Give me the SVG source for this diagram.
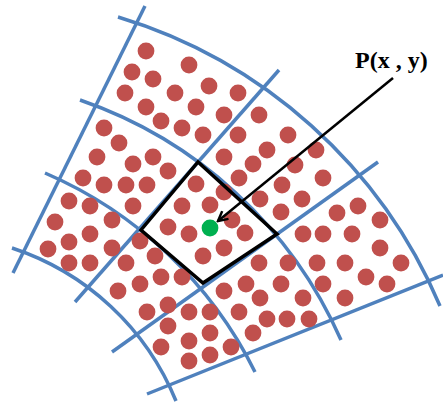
<svg xmlns="http://www.w3.org/2000/svg" width="443" height="403" viewBox="0 0 443 403">
<style>
.g{fill:none;stroke:#4F81BD;stroke-width:3.5}
.d{fill:#C0504D}
.cell{fill:none;stroke:#000;stroke-width:3.5;stroke-linejoin:miter}
.arr{fill:none;stroke:#000;stroke-width:2.5}
.lbl{font-family:"Liberation Serif","Times New Roman",serif;font-weight:bold;font-size:24px;fill:#000}
</style>
<defs>
<marker id="ah" viewBox="0 0 12 12" refX="10.5" refY="6" markerWidth="12" markerHeight="12" orient="auto" markerUnits="userSpaceOnUse">
<path d="M1,1 L10.5,6 L1,11" fill="none" stroke="#000" stroke-width="2.5"/>
</marker>
</defs>
<g id="grid">
<path class="g" d="M118,17 A509,509 0 0 1 440,306"/>
<path class="g" d="M80,100 A442,442 0 0 1 341,340"/>
<path class="g" d="M45,173 A420,420 0 0 1 255,372"/>
<path class="g" d="M12,248 A267,267 0 0 1 176,401"/>
<path class="g" d="M145,6 L13,273"/>
<path class="g" d="M279,70 L75,302"/>
<path class="g" d="M378,162 L112,352"/>
<path class="g" d="M443,275 L147,394"/>
</g>
<g id="dots">
<circle class="d" r="8.4" cx="146" cy="51"/>
<circle class="d" r="8.4" cx="189" cy="65"/>
<circle class="d" r="8.4" cx="132" cy="72"/>
<circle class="d" r="8.4" cx="153" cy="79"/>
<circle class="d" r="8.4" cx="209" cy="86"/>
<circle class="d" r="8.4" cx="125" cy="93"/>
<circle class="d" r="8.4" cx="175" cy="93"/>
<circle class="d" r="8.4" cx="146" cy="107"/>
<circle class="d" r="8.4" cx="196" cy="107"/>
<circle class="d" r="8.4" cx="161" cy="121"/>
<circle class="d" r="8.4" cx="182" cy="128"/>
<circle class="d" r="8.4" cx="203" cy="135"/>
<circle class="d" r="8.4" cx="238" cy="93"/>
<circle class="d" r="8.4" cx="224" cy="115"/>
<circle class="d" r="8.4" cx="259" cy="115"/>
<circle class="d" r="8.4" cx="238" cy="135"/>
<circle class="d" r="8.4" cx="288" cy="135"/>
<circle class="d" r="8.4" cx="267" cy="150"/>
<circle class="d" r="8.4" cx="224" cy="157"/>
<circle class="d" r="8.4" cx="316" cy="150"/>
<circle class="d" r="8.4" cx="253" cy="164"/>
<circle class="d" r="8.4" cx="295" cy="165"/>
<circle class="d" r="8.4" cx="239" cy="178"/>
<circle class="d" r="8.4" cx="323" cy="178"/>
<circle class="d" r="8.4" cx="282" cy="185"/>
<circle class="d" r="8.4" cx="104" cy="128"/>
<circle class="d" r="8.4" cx="119" cy="143"/>
<circle class="d" r="8.4" cx="97" cy="157"/>
<circle class="d" r="8.4" cx="153" cy="157"/>
<circle class="d" r="8.4" cx="133" cy="164"/>
<circle class="d" r="8.4" cx="168" cy="171"/>
<circle class="d" r="8.4" cx="83" cy="178"/>
<circle class="d" r="8.4" cx="104" cy="185"/>
<circle class="d" r="8.4" cx="126" cy="185"/>
<circle class="d" r="8.4" cx="147" cy="185"/>
<circle class="d" r="8.4" cx="133" cy="206"/>
<circle class="d" r="8.4" cx="196" cy="184"/>
<circle class="d" r="8.4" cx="224" cy="192"/>
<circle class="d" r="8.4" cx="182" cy="206"/>
<circle class="d" r="8.4" cx="210" cy="205"/>
<circle class="d" r="8.4" cx="168" cy="227"/>
<circle class="d" r="8.4" cx="189" cy="234"/>
<circle class="d" r="8.4" cx="232" cy="220"/>
<circle class="d" r="8.4" cx="245" cy="233"/>
<circle class="d" r="8.4" cx="224" cy="248"/>
<circle class="d" r="8.4" cx="203" cy="256"/>
<circle class="d" r="8.4" cx="260" cy="199"/>
<circle class="d" r="8.4" cx="302" cy="199"/>
<circle class="d" r="8.4" cx="281" cy="212"/>
<circle class="d" r="8.4" cx="337" cy="213"/>
<circle class="d" r="8.4" cx="358" cy="206"/>
<circle class="d" r="8.4" cx="380" cy="220"/>
<circle class="d" r="8.4" cx="303" cy="234"/>
<circle class="d" r="8.4" cx="323" cy="234"/>
<circle class="d" r="8.4" cx="352" cy="234"/>
<circle class="d" r="8.4" cx="380" cy="248"/>
<circle class="d" r="8.4" cx="259" cy="263"/>
<circle class="d" r="8.4" cx="288" cy="263"/>
<circle class="d" r="8.4" cx="317" cy="263"/>
<circle class="d" r="8.4" cx="345" cy="263"/>
<circle class="d" r="8.4" cx="401" cy="263"/>
<circle class="d" r="8.4" cx="366" cy="277"/>
<circle class="d" r="8.4" cx="387" cy="284"/>
<circle class="d" r="8.4" cx="281" cy="284"/>
<circle class="d" r="8.4" cx="323" cy="284"/>
<circle class="d" r="8.4" cx="303" cy="298"/>
<circle class="d" r="8.4" cx="345" cy="298"/>
<circle class="d" r="8.4" cx="69" cy="201"/>
<circle class="d" r="8.4" cx="90" cy="206"/>
<circle class="d" r="8.4" cx="55" cy="222"/>
<circle class="d" r="8.4" cx="112" cy="220"/>
<circle class="d" r="8.4" cx="90" cy="234"/>
<circle class="d" r="8.4" cx="69" cy="242"/>
<circle class="d" r="8.4" cx="48" cy="249"/>
<circle class="d" r="8.4" cx="112" cy="248"/>
<circle class="d" r="8.4" cx="69" cy="263"/>
<circle class="d" r="8.4" cx="90" cy="263"/>
<circle class="d" r="8.4" cx="126" cy="263"/>
<circle class="d" r="8.4" cx="140" cy="241"/>
<circle class="d" r="8.4" cx="155" cy="256"/>
<circle class="d" r="8.4" cx="161" cy="277"/>
<circle class="d" r="8.4" cx="182" cy="277"/>
<circle class="d" r="8.4" cx="140" cy="284"/>
<circle class="d" r="8.4" cx="118" cy="291"/>
<circle class="d" r="8.4" cx="147" cy="312"/>
<circle class="d" r="8.4" cx="168" cy="305"/>
<circle class="d" r="8.4" cx="189" cy="312"/>
<circle class="d" r="8.4" cx="210" cy="312"/>
<circle class="d" r="8.4" cx="168" cy="326"/>
<circle class="d" r="8.4" cx="210" cy="333"/>
<circle class="d" r="8.4" cx="189" cy="341"/>
<circle class="d" r="8.4" cx="161" cy="347"/>
<circle class="d" r="8.4" cx="189" cy="361"/>
<circle class="d" r="8.4" cx="210" cy="355"/>
<circle class="d" r="8.4" cx="231" cy="347"/>
<circle class="d" r="8.4" cx="224" cy="291"/>
<circle class="d" r="8.4" cx="246" cy="284"/>
<circle class="d" r="8.4" cx="260" cy="298"/>
<circle class="d" r="8.4" cx="239" cy="312"/>
<circle class="d" r="8.4" cx="267" cy="319"/>
<circle class="d" r="8.4" cx="253" cy="333"/>
<circle class="d" r="8.4" cx="287" cy="319"/>
<circle class="d" r="8.4" cx="309" cy="319"/>
</g>
<g id="cell">
<polygon class="cell" points="198,162 277,234 203,283 141,230"/>
</g>
<g id="point">
<circle r="8.4" cx="210" cy="228" fill="#00B050"/>
</g>
<g id="connectors">
<line class="arr" x1="393" y1="78" x2="218" y2="221" marker-end="url(#ah)"/>
</g>
<g id="label">
<text class="lbl" x="355" y="68">P(x , y)</text>
</g>
</svg>
